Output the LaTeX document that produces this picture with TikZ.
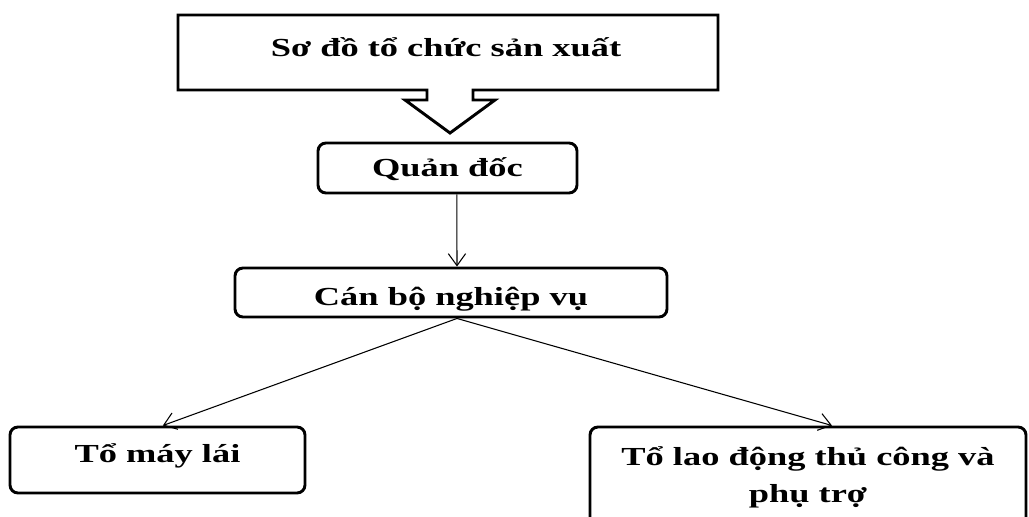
\documentclass[tikz,border=0pt]{standalone}
\usepackage{fontspec}
\setmainfont{Liberation Serif}
\usepackage{graphicx}
\usetikzlibrary{arrows.meta}
\newcommand{\wide}[1]{\scalebox{1.4}[1]{#1}}

\begin{document}
\begin{tikzpicture}[x=0.75pt,y=-0.75pt,
	txt/.style={font=\fontsize{19.5}{28}\selectfont\bfseries},
	box/.style={txt,draw,line width=2.2pt,rounded corners=6pt,inner sep=0pt},
	link/.style={line width=0.8pt,-{Straight Barb[length=9pt,width=13pt]}}]
	\useasboundingbox (0,0) rectangle (1029,517);
	\clip (0,0) rectangle (1029,517);
	% callout with down arrow
	\draw[line width=2.2pt]
		  (178,15) -- (718,15) -- (718,90) -- (473,90) -- (473,100) -- (495,100) -- (450,133)
		  -- (405,100) -- (427,100) -- (427,90) -- (178,90) -- cycle;
	\node[txt,anchor=base] (title) at (446,57) {\wide{Sơ đồ tổ chức sản xuất}};
	\node[box,minimum width=194.25pt,minimum height=37.5pt,text height=24.75pt,text depth=12.75pt]
		(quandoc) at (447.5,168) {\wide{Quản đốc}};
	\node[box,minimum width=324pt,minimum height=36.75pt,text height=27.75pt,text depth=9pt]
		(canbo) at (451,292.5) {\wide{Cán bộ nghiệp vụ}};
	\node[box,minimum width=221.25pt,minimum height=49.5pt,text height=26.25pt,text depth=23.25pt]
		(tomay) at (157.5,460) {\wide{Tổ máy lái}};
	\node[box,minimum width=327pt,minimum height=84.75pt,text height=28.5pt,text depth=56.25pt]
		(tolao) at (808,483.5) {\wide{\begin{tabular}[t]{@{}c@{}}Tổ lao động thủ công và\\phụ trợ\end{tabular}}};
	\draw[link] ([xshift=7pt]quandoc.south) -- ([xshift=4.5pt]canbo.north);
	\draw[link] ([xshift=4.5pt]canbo.south) -- ([xshift=4pt]tomay.north);
	\draw[link] ([xshift=4.5pt]canbo.south) -- ([xshift=18pt]tolao.north);
\end{tikzpicture}
\end{document}
